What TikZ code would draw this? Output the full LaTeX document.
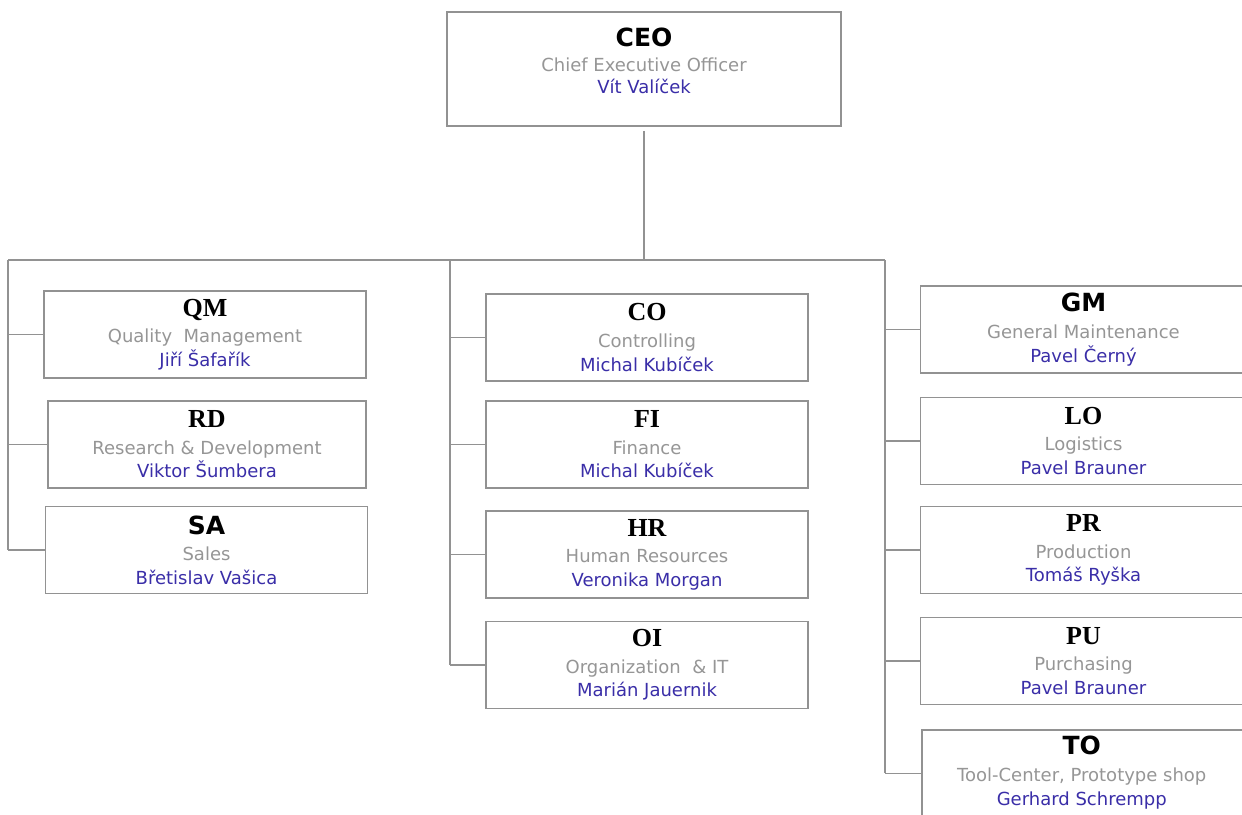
\documentclass[tikz,border=0pt]{standalone}
\usepackage{fontspec}
\setmainfont{DejaVu Sans}
\newfontfamily\serifhead{Liberation Serif}
\usepackage{tikz}
\usetikzlibrary{positioning}

\definecolor{linegray}{RGB}{146,146,146}
\definecolor{deptgray}{RGB}{150,150,150}
\definecolor{nameblue}{RGB}{58,46,168}

% title / department / head of a unit
\newcommand{\unitS}[3]{{\fontsize{12.5}{13}\selectfont\bfseries #1}\\[1.5pt]{\color{deptgray}#2}\\{\color{nameblue}#3}}
\newcommand{\unitR}[3]{{\serifhead\fontsize{13}{13}\selectfont\bfseries #1}\\[1.5pt]{\color{deptgray}#2}\\{\color{nameblue}#3}}

\tikzset{
  unit/.style={draw=linegray, line width=0.75pt, fill=white, align=center,
    inner sep=0pt, minimum width=161pt, minimum height=43.5pt,
    font=\fontsize{9}{11.8}\selectfont},
  link/.style={draw=linegray, line width=0.75pt},
}

\begin{document}
\begin{tikzpicture}[x=0.5pt, y=-0.5pt]
        \useasboundingbox (0,0) rectangle (1242,814);
        \clip (0,0) rectangle (1242,814);

        %CEO
        \node [unit, minimum width=197pt, minimum height=57pt] (ceo) at (644,69) {};
        \node [align=center, inner sep=0pt, anchor=north, font=\fontsize{9}{11}\selectfont]
          (ceotext) at ([yshift=-8pt]ceo.north) {\unitS{CEO}{Chief Executive Officer}{Vít Valíček}};

        %Bus
        \coordinate (lbus) at (8,260);
        \coordinate (mbus) at (450,260);
        \coordinate (rbus) at (885,260);
        \draw [link, shorten <=2pt] (ceo.south) -- (ceo.south |- lbus);
        \draw [link] (lbus) -- (rbus);

        %Left column
        \node [unit] (qm) at (205,334.5) {\unitR{QM}{Quality \ Management}{Jiří Šafařík}};
        \node [unit, minimum width=159pt] (rd) at (207,444.5) {\unitR{RD}{Research \& Development}{Viktor Šumbera}};
        \node [unit] (sa) at (206.5,550) {\unitS{SA}{Sales}{Břetislav Vašica}};
        \draw [link] (lbus) -- (lbus |- sa.west);
        \draw [link] (lbus |- qm.west) -- (qm.west);
        \draw [link] (lbus |- rd.west) -- (rd.west);
        \draw [link] (lbus |- sa.west) -- (sa.west);

        %Middle column
        \node [unit] (co) at (647,337.5) {\unitR{CO}{Controlling}{Michal Kubíček}};
        \node [unit] (fi) at (647,444.5) {\unitR{FI}{Finance}{Michal Kubíček}};
        \node [unit] (hr) at (647,554.5) {\unitR{HR}{Human Resources}{Veronika Morgan}};
        \node [unit] (oi) at (647,665) {\unitR{OI}{Organization \ \& IT}{Marián Jauernik}};
        \draw [link] (mbus) -- (mbus |- oi.west);
        \draw [link] (mbus |- co.west) -- (co.west);
        \draw [link] (mbus |- fi.west) -- (fi.west);
        \draw [link] (mbus |- hr.west) -- (hr.west);
        \draw [link] (mbus |- oi.west) -- (oi.west);

        %Right column
        \node [unit, minimum width=163pt] (gm) at (1083.5,329.5) {\unitS{GM}{General Maintenance}{Pavel Černý}};
        \node [unit, minimum width=163pt] (lo) at (1083.5,441) {\unitR{LO}{Logistics}{Pavel Brauner}};
        \node [unit, minimum width=163pt] (pr) at (1083.5,550) {\unitR{PR}{Production}{Tomáš Ryška}};
        \node [unit, minimum width=163pt] (pu) at (1083.5,661) {\unitR{PU}{Purchasing}{Pavel Brauner}};
        \node [unit, minimum width=163pt, anchor=north west] (to) at (921,729) {};
        \node [align=center, inner sep=0pt, anchor=north, font=\fontsize{9}{11.8}\selectfont]
          (totext) at ([xshift=-1.5pt,yshift=-3.5pt]to.north) {\unitS{TO}{Tool-Center, Prototype shop}{Gerhard Schrempp}};
        \draw [link] (rbus) -- (rbus |- to.west);
        \draw [link] (rbus |- gm.west) -- (gm.west);
        \draw [link] (rbus |- lo.west) -- (lo.west);
        \draw [link] (rbus |- pr.west) -- (pr.west);
        \draw [link] (rbus |- pu.west) -- (pu.west);
        \draw [link] (rbus |- to.west) -- (to.west);
\end{tikzpicture}
\end{document}
